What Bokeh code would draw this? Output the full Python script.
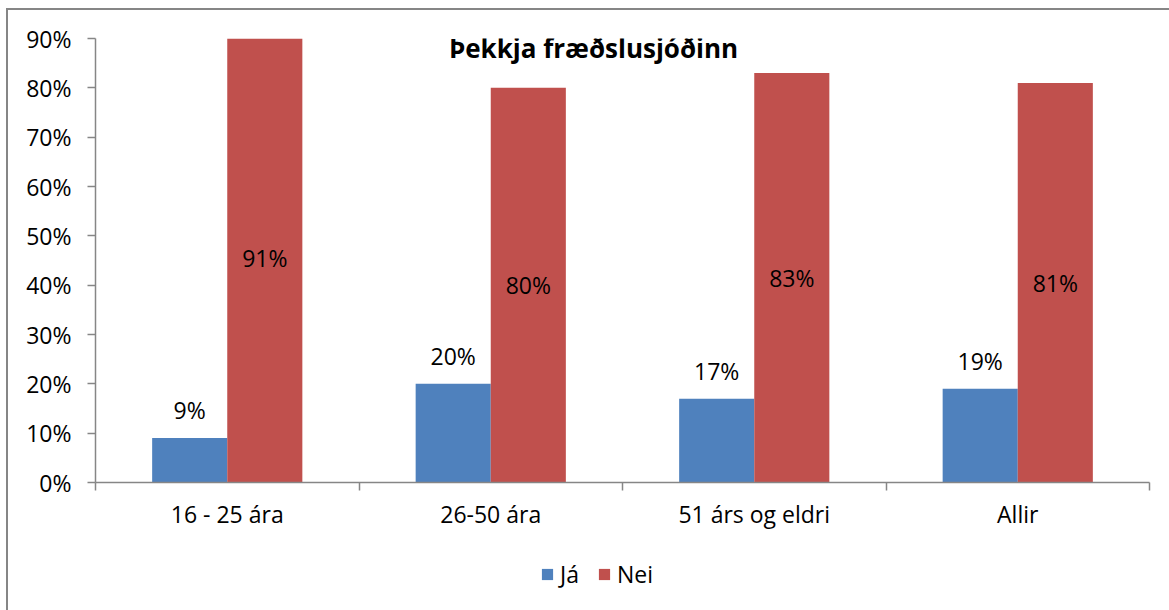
import numpy as np
from bokeh.plotting import figure
from bokeh.layouts import column
from bokeh.models import (Range1d, FixedTicker, Label, Legend, LegendItem,
                          ColumnDataSource, PrintfTickFormatter, LinearAxis)
from bokeh.core.properties import value
from bokeh.embed import file_html
from bokeh.resources import INLINE

# ---- data ----
categories = ["16 - 25 ára", "26-50 ára", "51 árs og eldri", "Allir"]
series_names = ["Já", "Nei"]
ja = [9, 20, 17, 19]
nei = [91, 80, 83, 81]
y_ticks = [0, 10, 20, 30, 40, 50, 60, 70, 80, 90]
chart_title = "Þekkja fræðslusjóðinn"

# ---- styles ----
FONT = "Open Sans"
BLUE = "#4F81BD"
RED = "#C0504D"
AXIS = "#868686"
BAR_W = 0.285
W = 1169
H_MAIN = 545
H_LEG = 65

n = len(categories)
centers = np.arange(n) + 0.5
x_ja = centers - BAR_W / 2
x_nei = centers + BAR_W / 2

src_ja = ColumnDataSource(dict(x=x_ja, top=ja, lab=[f"{v}%" for v in ja]))
src_nei = ColumnDataSource(dict(x=x_nei, top=nei, mid=[v / 2 for v in nei],
                                lab=[f"{v}%" for v in nei]))

p = figure(width=W, height=H_MAIN, x_range=Range1d(0, n), y_range=Range1d(0, max(y_ticks)),
           output_backend="svg", toolbar_location=None,
           x_axis_type=None, y_axis_type=None,
           min_border_left=95, min_border_top=38, min_border_right=20, min_border_bottom=63)
p.outline_line_color = None
p.background_fill_color = "white"
p.border_fill_alpha = 0

p.vbar(x="x", top="top", width=BAR_W, bottom=0, source=src_ja,
       fill_color=BLUE, line_color=None)
p.vbar(x="x", top="top", width=BAR_W, bottom=0, source=src_nei,
       fill_color=RED, line_color=None)

p.text(x="x", y="top", text="lab", source=src_ja, text_align="center",
       text_baseline="middle", y_offset=-28, text_font=value(FONT),
       text_font_size="23px", text_color="black")
p.text(x="x", y="mid", text="lab", source=src_nei, text_align="center",
       text_baseline="middle", text_font=value(FONT),
       text_font_size="23px", text_color="black")

# y axis
yaxis = LinearAxis(ticker=FixedTicker(ticks=y_ticks, minor_ticks=[]),
                   formatter=PrintfTickFormatter(format="%d%%"))
yaxis.axis_line_color = AXIS
yaxis.axis_line_width = 1.5
yaxis.major_tick_line_color = AXIS
yaxis.major_tick_line_width = 1.5
yaxis.major_tick_in = 0
yaxis.major_tick_out = 8
yaxis.minor_tick_line_color = None
yaxis.major_label_standoff = 16
yaxis.major_label_text_font = FONT
yaxis.major_label_text_font_size = "23px"
yaxis.major_label_text_color = "black"
p.add_layout(yaxis, "left")

# x axis
xaxis = LinearAxis(ticker=FixedTicker(ticks=list(centers), minor_ticks=list(range(n + 1))))
xaxis.major_label_overrides = {float(c): cat for c, cat in zip(centers, categories)}
xaxis.axis_line_color = AXIS
xaxis.axis_line_width = 1.5
xaxis.major_tick_line_color = None
xaxis.major_tick_in = 0
xaxis.major_tick_out = 0
xaxis.minor_tick_line_color = AXIS
xaxis.minor_tick_line_width = 1.5
xaxis.minor_tick_in = 0
xaxis.minor_tick_out = 8
xaxis.major_label_standoff = 7
xaxis.major_label_text_font = FONT
xaxis.major_label_text_font_size = "23px"
xaxis.major_label_text_color = "black"
p.add_layout(xaxis, "below")

# title inside the plot area
p.add_layout(Label(x=1.89, y=88, text=chart_title, text_align="center",
                   text_baseline="middle", text_font=FONT, text_font_size="26px",
                   text_font_style="bold", text_color="black"))

# ---- legend strip (zero-height swatch renderers only feed the legend) ----
pl = figure(width=W, height=H_LEG, x_range=Range1d(0, 1), y_range=Range1d(0, 1),
            output_backend="svg", toolbar_location=None,
            x_axis_type=None, y_axis_type=None, min_border=0)
pl.outline_line_color = None
pl.background_fill_alpha = 0
pl.border_fill_alpha = 0
lr_ja = pl.vbar(x=[0], top=[0], bottom=[0], width=0.0, fill_color=BLUE, line_color=None)
lr_nei = pl.vbar(x=[0], top=[0], bottom=[0], width=0.0, fill_color=RED, line_color=None)
legend = Legend(items=[LegendItem(label=series_names[0], renderers=[lr_ja]),
                       LegendItem(label=series_names[1], renderers=[lr_nei])],
                orientation="horizontal", location=(445, 20),
                glyph_width=14, glyph_height=14, label_standoff=6, spacing=17,
                padding=0, margin=0, border_line_color=None, background_fill_alpha=0,
                label_text_font=FONT, label_text_font_size="23px", label_text_color="black")
pl.add_layout(legend, "center")

layout = column(p, pl, spacing=0,
                styles={"background": (f"linear-gradient({AXIS},{AXIS}) 6px 8px / 2px calc(100% - 8px) no-repeat, "
                                       f"linear-gradient({AXIS},{AXIS}) 6px 8px / calc(100% - 6px) 2px no-repeat, "
                                       "white")})

open("out.html", "w").write(file_html(layout, INLINE))
